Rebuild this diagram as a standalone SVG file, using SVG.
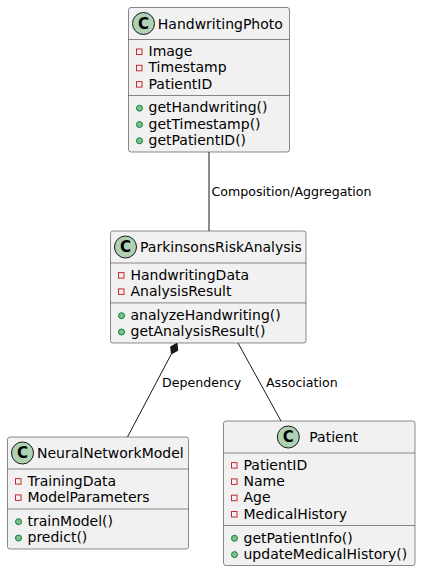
<svg xmlns="http://www.w3.org/2000/svg" width="421" height="571" viewBox="0 0 421 571">
<defs>
<style>
.box{fill:#F1F1F1;stroke:#181818;stroke-width:0.5}
.sep{stroke:#181818;stroke-width:0.5}
.circ{fill:#ADD1B2;stroke:#181818;stroke-width:1}
.cl{font-family:"DejaVu Sans",sans-serif;font-size:15px;font-weight:bold;fill:#000;text-anchor:middle}
.nm{font-family:"DejaVu Sans",sans-serif;font-size:14px;fill:#000}
.mb{font-family:"DejaVu Sans",sans-serif;font-size:14px;fill:#000}
.priv{fill:none;stroke:#C82930;stroke-width:1}
.pub{fill:#84BE84;stroke:#038048;stroke-width:1}
.lnk{stroke:#181818;stroke-width:1;fill:none}
.lbl{font-family:"DejaVu Sans",sans-serif;font-size:12.6px;fill:#000}
</style>
</defs>
<rect width="421" height="571" fill="#FFFFFF"/>

<g id="HandwritingPhoto">
<rect class="box" x="128.5" y="7.5" width="161" height="144.5" rx="2.5"/>
<circle class="circ" cx="143.5" cy="23.5" r="11"/>
<text class="cl" x="143.5" y="28.8">C</text>
<text class="nm" x="157.8" y="28.6">HandwritingPhoto</text>
<line class="sep" x1="128.5" y1="39.5" x2="289.5" y2="39.5"/>
<rect class="priv" x="136.5" y="49" width="5.5" height="5.5"/>
<text class="mb" x="148.5" y="56">Image</text>
<rect class="priv" x="136.5" y="65.3" width="5.5" height="5.5"/>
<text class="mb" x="148.5" y="72.3">Timestamp</text>
<rect class="priv" x="136.5" y="81.6" width="5.5" height="5.5"/>
<text class="mb" x="148.5" y="88.6">PatientID</text>
<line class="sep" x1="128.5" y1="95.5" x2="289.5" y2="95.5"/>
<circle class="pub" cx="139.5" cy="108.2" r="3"/>
<text class="mb" x="148.5" y="112.4">getHandwriting()</text>
<circle class="pub" cx="139.5" cy="124.5" r="3"/>
<text class="mb" x="148.5" y="128.7">getTimestamp()</text>
<circle class="pub" cx="139.5" cy="140.8" r="3"/>
<text class="mb" x="148.5" y="145">getPatientID()</text>
</g>

<g id="ParkinsonsRiskAnalysis">
<rect class="box" x="110.5" y="231" width="195.5" height="112" rx="2.5"/>
<circle class="circ" cx="125.5" cy="247" r="11"/>
<text class="cl" x="125.5" y="252.3">C</text>
<text class="nm" x="140" y="252.1">ParkinsonsRiskAnalysis</text>
<line class="sep" x1="110.5" y1="263" x2="306" y2="263"/>
<rect class="priv" x="118.5" y="272.6" width="5.5" height="5.5"/>
<text class="mb" x="130.5" y="279.6">HandwritingData</text>
<rect class="priv" x="118.5" y="288.9" width="5.5" height="5.5"/>
<text class="mb" x="130.5" y="295.9">AnalysisResult</text>
<line class="sep" x1="110.5" y1="302.9" x2="306" y2="302.9"/>
<circle class="pub" cx="121.5" cy="315.7" r="3"/>
<text class="mb" x="130.5" y="319.9">analyzeHandwriting()</text>
<circle class="pub" cx="121.5" cy="332" r="3"/>
<text class="mb" x="130.5" y="336.2">getAnalysisResult()</text>
</g>

<g id="NeuralNetworkModel">
<rect class="box" x="7.5" y="437" width="181" height="112" rx="2.5"/>
<circle class="circ" cx="22.5" cy="453" r="11"/>
<text class="cl" x="22.5" y="458.3">C</text>
<text class="nm" x="37" y="458.1">NeuralNetworkModel</text>
<line class="sep" x1="7.5" y1="469" x2="188.5" y2="469"/>
<rect class="priv" x="15.5" y="478.6" width="5.5" height="5.5"/>
<text class="mb" x="27.5" y="485.6">TrainingData</text>
<rect class="priv" x="15.5" y="494.9" width="5.5" height="5.5"/>
<text class="mb" x="27.5" y="501.9">ModelParameters</text>
<line class="sep" x1="7.5" y1="509" x2="188.5" y2="509"/>
<circle class="pub" cx="18.5" cy="521.7" r="3"/>
<text class="mb" x="27.5" y="525.9">trainModel()</text>
<circle class="pub" cx="18.5" cy="538" r="3"/>
<text class="mb" x="27.5" y="542.2">predict()</text>
</g>

<g id="Patient">
<rect class="box" x="223.5" y="421" width="191.5" height="144.5" rx="2.5"/>
<circle class="circ" cx="288.3" cy="437" r="11"/>
<text class="cl" x="288.3" y="442.3">C</text>
<text class="nm" x="309.3" y="442.1">Patient</text>
<line class="sep" x1="223.5" y1="453" x2="415" y2="453"/>
<rect class="priv" x="231.5" y="462.6" width="5.5" height="5.5"/>
<text class="mb" x="243.5" y="469.6">PatientID</text>
<rect class="priv" x="231.5" y="478.9" width="5.5" height="5.5"/>
<text class="mb" x="243.5" y="485.9">Name</text>
<rect class="priv" x="231.5" y="495.2" width="5.5" height="5.5"/>
<text class="mb" x="243.5" y="502.2">Age</text>
<rect class="priv" x="231.5" y="511.5" width="5.5" height="5.5"/>
<text class="mb" x="243.5" y="518.5">MedicalHistory</text>
<line class="sep" x1="223.5" y1="525.5" x2="415" y2="525.5"/>
<circle class="pub" cx="234.5" cy="538.3" r="3"/>
<text class="mb" x="243.5" y="542.5">getPatientInfo()</text>
<circle class="pub" cx="234.5" cy="554.6" r="3"/>
<text class="mb" x="243.5" y="558.8">updateMedicalHistory()</text>
</g>

<g id="connectors">
<line class="lnk" x1="209" y1="152" x2="209" y2="231"/>
<text class="lbl" x="211.5" y="195.5">Composition/Aggregation</text>
<line class="lnk" x1="171.4" y1="353.9" x2="127.5" y2="437"/>
<polygon points="177,343.3 177.7,350.5 171.4,353.9 170.7,346.7" fill="#181818" stroke="#181818" stroke-width="1"/>
<text class="lbl" x="162" y="386.7">Dependency</text>
<line class="lnk" x1="238" y1="343" x2="281" y2="421"/>
<text class="lbl" x="266" y="386.7">Association</text>
</g>
</svg>
